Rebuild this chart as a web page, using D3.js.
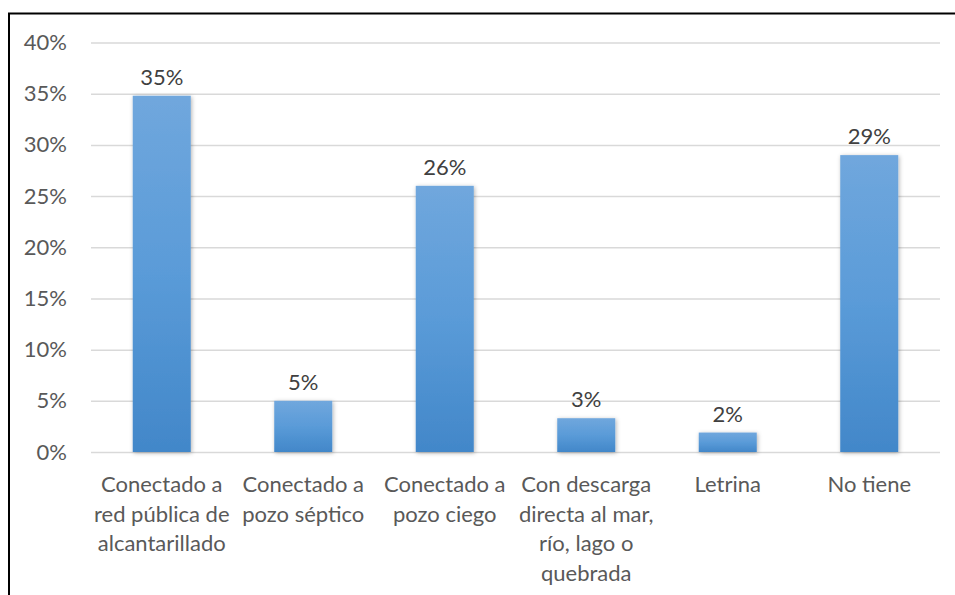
<!DOCTYPE html>
<html lang="es">
<head>
<meta charset="UTF-8">
<title>Eliminación de excretas</title>
<script src="https://d3js.org/d3.v7.min.js"></script>
<style>
    body { margin: 0; background: #fff; }
    text { font-family: Lato, "Open Sans", sans-serif; }
</style>
</head>
<body>
<div id="chart"></div>
<script>
    // datos
    const categories = [
        ["Conectado a", "red pública de", "alcantarillado"],
        ["Conectado a", "pozo séptico"],
        ["Conectado a", "pozo ciego"],
        ["Con descarga", "directa al mar,", "río, lago o", "quebrada"],
        ["Letrina"],
        ["No tiene"]
    ];
    const values = [0.348, 0.050, 0.260, 0.033, 0.019, 0.290];
    const yTicks = [0, 0.05, 0.10, 0.15, 0.20, 0.25, 0.30, 0.35, 0.40];

    const W = 955, H = 595;
    const margin = { top: 42.5, right: 15, bottom: 143, left: 91 };
    const width = W - margin.left - margin.right;
    const height = H - margin.top - margin.bottom;
    const fs = "22px";

    const svg = d3.select("#chart").append("svg")
        .attr("width", W).attr("height", H);

    const defs = svg.append("defs");
    const grad = defs.append("linearGradient")
        .attr("id", "barGrad").attr("x1", 0).attr("y1", 0).attr("x2", 0).attr("y2", 1);
    grad.append("stop").attr("offset", "0%").attr("stop-color", "#70a7dd");
    grad.append("stop").attr("offset", "50%").attr("stop-color", "#5a9bd8");
    grad.append("stop").attr("offset", "100%").attr("stop-color", "#4287c9");

    const shadow = defs.append("filter").attr("id", "shadow")
        .attr("x", "-20%").attr("y", "-20%").attr("width", "140%").attr("height", "140%");
    shadow.append("feDropShadow").attr("dx", 1).attr("dy", 1)
        .attr("stdDeviation", 2).attr("flood-color", "#000").attr("flood-opacity", 0.3);

    // marco
    svg.append("rect")
        .attr("x", 9).attr("y", 13.5).attr("width", W + 10).attr("height", H + 10)
        .attr("fill", "none").attr("stroke", "#000").attr("stroke-width", 2);

    const g = svg.append("g").attr("transform", `translate(${margin.left},${margin.top})`);

    const x = d3.scaleBand().domain(d3.range(categories.length))
        .range([0, width]).paddingInner(0.59).paddingOuter(0.295);
    const y = d3.scaleLinear().domain([0, 0.40]).range([height, 0]);

    const yAxis = g.append("g")
        .call(d3.axisLeft(y).tickValues(yTicks).tickFormat(d3.format(".0%")).tickSize(-width).tickPadding(24));
    yAxis.select(".domain").remove();
    yAxis.selectAll(".tick line").attr("stroke", "#d9d9d9").attr("stroke-width", 1.5);
    yAxis.selectAll(".tick text").attr("fill", "#595959").style("font-size", fs)
        .style("font-family", "Lato, sans-serif");

    g.selectAll("rect.bar")
        .data(values)
        .join("rect")
        .attr("class", "bar")
        .attr("x", (d, i) => x(i))
        .attr("y", d => y(d))
        .attr("width", x.bandwidth())
        .attr("height", d => height - y(d))
        .attr("fill", "url(#barGrad)")
        .attr("filter", "url(#shadow)");

    g.selectAll("text.val")
        .data(values)
        .join("text")
        .attr("class", "val")
        .attr("x", (d, i) => x(i) + x.bandwidth() / 2)
        .attr("y", d => y(d) - 11)
        .attr("text-anchor", "middle")
        .attr("fill", "#404040")
        .style("font-size", fs)
        .text(d => d3.format(".0%")(d));

    const xl = g.selectAll("text.cat")
        .data(categories)
        .join("text")
        .attr("class", "cat")
        .attr("text-anchor", "middle")
        .attr("fill", "#595959")
        .style("font-size", fs)
        .attr("transform", (d, i) => `translate(${x(i) + x.bandwidth() / 2},${height + 40})`);
    xl.selectAll("tspan")
        .data(d => d)
        .join("tspan")
        .attr("x", 0)
        .attr("y", (d, i) => i * 29.5)
        .text(d => d);
</script>
</body>
</html>
